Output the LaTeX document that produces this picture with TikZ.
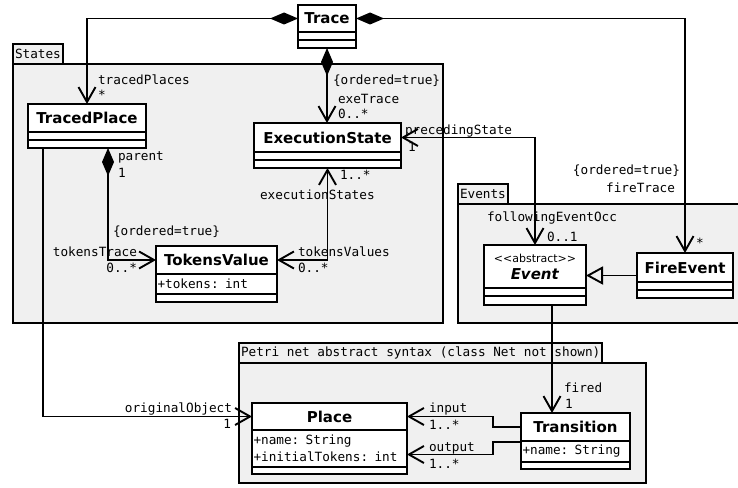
\documentclass[tikz,border=0pt]{standalone}
\usepackage{fontspec}
\newfontfamily\umlsans{DejaVu Sans}
\newfontfamily\umlmono{DejaVu Sans Mono}
\usetikzlibrary{arrows.meta,positioning}
\definecolor{pkggray}{HTML}{F0F0F0}

\begin{document}
\begin{tikzpicture}[x=1pt,y=-1pt,
    every node/.style={outer sep=0pt},
    >={Straight Barb[length=15pt,width=17pt]},
    pkg/.style={draw,line width=1.8pt,fill=pkggray},
    pkgtab/.style={pkg,anchor=north west,inner sep=2pt,minimum height=20pt,
      font=\umlmono\fontsize{12.7}{15}\selectfont},
    clsname/.style={draw,fill=white,line width=2pt,anchor=north west,inner sep=2pt,
      font=\umlsans\bfseries\fontsize{15}{18}\selectfont},
    clscomp/.style={draw,fill=white,line width=2pt,inner sep=0pt,minimum height=8pt,
      below=0pt of #1},
    clsattr/.style={draw,fill=white,line width=2pt,inner sep=1.5pt,align=left,
      font=\umlmono\fontsize{12.7}{16.5}\selectfont,below=0pt of #1},
    lbl/.style={inner sep=0pt,font=\umlmono\fontsize{12.7}{15}\selectfont},
    conn/.style={line width=1.9pt},
    compo/.style={conn,arrows={Diamond[length=28pt,width=12pt]->}},
    gen/.style={conn,arrows={-Triangle[open,length=17pt,width=18pt]}}
  ]
  \useasboundingbox (0,0) rectangle (738,487);

  % packages
  \node[pkgtab] (statesTab) at (13,44) {States};
  \draw[pkg] (13,64) rectangle (443,323);
  \node[pkgtab] (eventsTab) at (458,184) {Events};
  \draw[pkg] (458,204) rectangle (745,323);
  \node[pkgtab] (petriTab) at (239,343) {Petri net abstract syntax (class Net not shown)};
  \draw[pkg] (239,363) rectangle (646,483);

  % classes
  \node[clsname,minimum width=58pt,minimum height=27pt] (trace) at (298,5) {Trace};
  \node[clscomp=trace,minimum width=58pt] (trace1) {};
  \node[clscomp=trace1,minimum width=58pt] (trace2) {};

  \node[clsname,minimum width=118pt,minimum height=28pt] (tracedPlace) at (28,104) {TracedPlace};
  \node[clscomp=tracedPlace,minimum width=118pt] (tracedPlace1) {};
  \node[clscomp=tracedPlace1,minimum width=118pt] (tracedPlace2) {};

  \node[clsname,minimum width=147pt,minimum height=29pt] (execState) at (254,123) {ExecutionState};
  \node[clscomp=execState,minimum width=147pt] (execState1) {};
  \node[clscomp=execState1,minimum width=147pt] (execState2) {};

  \node[clsname,minimum width=121pt,minimum height=28pt] (tokensValue) at (156,246) {TokensValue};
  \node[clsattr=tokensValue,text width=118pt,minimum height=20pt] (tokensValue1) {+tokens: int};
  \node[clscomp=tokensValue1,minimum width=121pt] (tokensValue2) {};

  \node[clsname,minimum width=102pt,minimum height=43pt,align=center] (event) at (484,245)
    {{\mdseries\fontsize{11}{13}\selectfont <<abstract>>}\\[-1pt]\textit{Event}};
  \node[clscomp=event,minimum width=102pt] (event1) {};
  \node[clscomp=event1,minimum width=102pt,minimum height=9pt] (event2) {};

  \node[clsname,minimum width=96pt,minimum height=29pt] (fireEvent) at (637,253) {FireEvent};
  \node[clscomp=fireEvent,minimum width=96pt] (fireEvent1) {};
  \node[clscomp=fireEvent1,minimum width=96pt] (fireEvent2) {};

  \node[clsname,minimum width=155pt,minimum height=27pt] (place) at (252,403) {Place};
  \node[clsattr=place,text width=152pt,minimum height=37pt] (place1) {+name: String\\+initialTokens: int};
  \node[clscomp=place1,minimum width=155pt,minimum height=7pt] (place2) {};

  \node[clsname,minimum width=109pt,minimum height=28pt] (transition) at (521,413) {Transition};
  \node[clsattr=transition,text width=106pt,minimum height=21pt] (transition1) {+name: String};
  \node[clscomp=transition1,minimum width=109pt,minimum height=7pt] (transition2) {};

  % connectors
  \draw[compo] (trace.west) -| (tracedPlace.north);
  \draw[compo] (trace2.south) -- (trace2.south |- execState.north);
  \draw[compo] (trace.east) -| (fireEvent.north);
  \draw[compo] ([xshift=21pt]tracedPlace2.south) |- (tokensValue.west);
  \draw[conn,<->] (execState2.south) |- (tokensValue.east);
  \draw[conn,<->] (execState.east) -| (event.north);
  \draw[conn,->] ([xshift=17pt]event2.south) -- ([xshift=17pt]event2.south |- transition.north);
  \draw[gen] ([yshift=-8pt]fireEvent.west) -- ([yshift=-8pt]fireEvent.west -| event.east);
  \draw[conn,->] (transition.west) -- ++(-28,0) |- (place.east);
  \draw[conn,->] ([yshift=-1pt]transition.south west) -- ++(-28,0) |- ([yshift=-6pt]place1.east);
  \draw[conn,->] ([xshift=-44pt]tracedPlace2.south) |- (place.west);

  % role names and multiplicities
  \node[lbl,anchor=west] (lTracedPlaces) at (98,80) {tracedPlaces};
  \node[lbl,anchor=west] (mTracedPlaces) at (98,95) {*};
  \node[lbl,anchor=west] (oExeTrace) at (333,81) {\{ordered=true\}};
  \node[lbl,anchor=west] (lExeTrace) at (338,99) {exeTrace};
  \node[lbl,anchor=west] (mExeTrace) at (338,114) {0..*};
  \node[lbl,anchor=west] (lParent) at (118,157) {parent};
  \node[lbl,anchor=west] (mParent) at (118,173) {1};
  \node[lbl,anchor=west] (lPreceding) at (405,131) {precedingState};
  \node[lbl,anchor=west] (mPreceding) at (408,147) {1};
  \node[lbl,anchor=west] (mExecStates) at (340,175) {1..*};
  \node[lbl,anchor=west] (lExecStates) at (260,195) {executionStates};
  \node[lbl,anchor=west] (oTokensTrace) at (113,232) {\{ordered=true\}};
  \node[lbl,anchor=east] (lTokensTrace) at (137,252) {tokensTrace};
  \node[lbl,anchor=east] (mTokensTrace) at (137,268) {0..*};
  \node[lbl,anchor=west] (lTokensValues) at (298,252) {tokensValues};
  \node[lbl,anchor=west] (mTokensValues) at (298,268) {0..*};
  \node[lbl,anchor=east] (oFireTrace) at (680,171) {\{ordered=true\}};
  \node[lbl,anchor=east] (lFireTrace) at (675,188) {fireTrace};
  \node[lbl,anchor=west] (mFireTrace) at (696,243) {*};
  \node[lbl,anchor=west] (lFollowing) at (487,218) {followingEventOcc};
  \node[lbl,anchor=west] (mFollowing) at (547,237) {0..1};
  \node[lbl,anchor=east] (lOriginal) at (232,409) {originalObject};
  \node[lbl,anchor=east] (mOriginal) at (231,424) {1};
  \node[lbl,anchor=west] (lFired) at (564,388) {fired};
  \node[lbl,anchor=west] (mFired) at (565,404) {1};
  \node[lbl,anchor=west] (lInput) at (429,409) {input};
  \node[lbl,anchor=west] (mInput) at (429,425) {1..*};
  \node[lbl,anchor=west] (lOutput) at (429,448) {output};
  \node[lbl,anchor=west] (mOutput) at (429,464) {1..*};
\end{tikzpicture}
\end{document}
